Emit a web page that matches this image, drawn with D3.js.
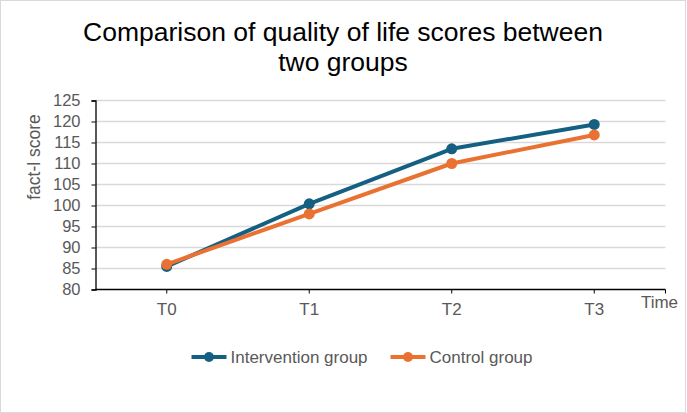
<!DOCTYPE html>
<html><head><meta charset="utf-8">
<script src="https://cdn.jsdelivr.net/npm/d3@7"></script>
<style>body{margin:0;background:#fff}svg{display:block}text{font-family:"Liberation Sans",Arial,sans-serif}</style>
</head><body>
<script>
const categories = ["T0","T1","T2","T3"];
const intervention = [85.5, 100.4, 113.5, 119.3];
const control = [86.0, 98.0, 110.0, 116.8];
const yTicks = [80,85,90,95,100,105,110,115,120,125];
const seriesNames = ["Intervention group","Control group"];
const colors = ["#156082","#E97132"];

const W=687,H=413;
const svg=d3.select("body").append("svg").attr("width",W).attr("height",H);
svg.append("rect").attr("x",0.5).attr("y",0.5).attr("width",W-2).attr("height",H-1).attr("fill","#fff").attr("stroke","#d9d9d9");

const x=d3.scaleBand().domain(categories).range([95.5,665.5]);
const y=d3.scaleLinear().domain([80,125]).range([289.5,100.5]);

// title
const title=svg.append("text").attr("text-anchor","middle").attr("font-size",26.5).attr("fill","#000");
title.append("tspan").attr("x",343).attr("y",40.5).text("Comparison of quality of life scores between");
title.append("tspan").attr("x",343).attr("y",70.5).text("two groups");

// grid
svg.append("g").selectAll("line").data(yTicks.slice(1)).join("line")
 .attr("x1",95.5).attr("x2",665.5).attr("y1",d=>y(d)).attr("y2",d=>y(d))
 .attr("stroke","#d9d9d9").attr("stroke-width",1.3);

// y axis
const ya=svg.append("g").attr("transform","translate(95.5,0)")
 .call(d3.axisLeft(y).tickValues(yTicks).tickSize(4).tickPadding(11));
ya.select(".domain").attr("stroke","#000").attr("stroke-width",1.3);
ya.selectAll(".tick line").attr("stroke","#000");
ya.selectAll("text").attr("font-size",16.5).attr("fill","#595959").attr("font-family","Liberation Sans, Arial, sans-serif");

// x axis
const xa=svg.append("g").attr("transform","translate(0,289.5)")
 .call(d3.axisBottom(x).tickSize(4).tickPadding(9.5));
xa.select(".domain").attr("stroke","#000").attr("stroke-width",1.3).attr("d","M95.5,0H665.5");
xa.selectAll(".tick line").attr("stroke","#000");
xa.selectAll("text").attr("font-size",17).attr("fill","#595959").attr("font-family","Liberation Sans, Arial, sans-serif");
xa.append("line").attr("x1",665.5).attr("x2",665.5).attr("y1",0).attr("y2",4).attr("stroke","#000");

// axis titles
svg.append("text").attr("transform","translate(40,157) rotate(-90)").attr("text-anchor","middle")
 .attr("font-size",17.5).attr("fill","#595959").text("fact-l score");
svg.append("text").attr("x",659.5).attr("y",308).attr("text-anchor","middle")
 .attr("font-size",17).attr("fill","#595959").text("Time");

// lines
const series=[intervention,control];
const line=d3.line().x((d,i)=>x(categories[i])+x.bandwidth()/2).y(d=>y(d));
series.forEach((s,k)=>{
 const g=svg.append("g");
 g.append("path").datum(s).attr("d",line).attr("fill","none").attr("stroke",colors[k]).attr("stroke-width",4).attr("stroke-linejoin","round");
 g.selectAll("circle").data(s).join("circle")
  .attr("cx",(d,i)=>x(categories[i])+x.bandwidth()/2).attr("cy",d=>y(d)).attr("r",5.5).attr("fill",colors[k]);
});

// legend
const lg=[{x:191.5,name:seriesNames[0],c:colors[0]},{x:390.5,name:seriesNames[1],c:colors[1]}];
lg.forEach(l=>{
 const g=svg.append("g");
 g.append("line").attr("x1",l.x).attr("x2",l.x+35).attr("y1",357).attr("y2",357).attr("stroke",l.c).attr("stroke-width",4);
 g.append("circle").attr("cx",l.x+17.5).attr("cy",357).attr("r",5).attr("fill",l.c);
 g.append("text").attr("x",l.x+39).attr("y",363).attr("font-size",17).attr("fill","#595959").text(l.name);
});
</script>
</body></html>
